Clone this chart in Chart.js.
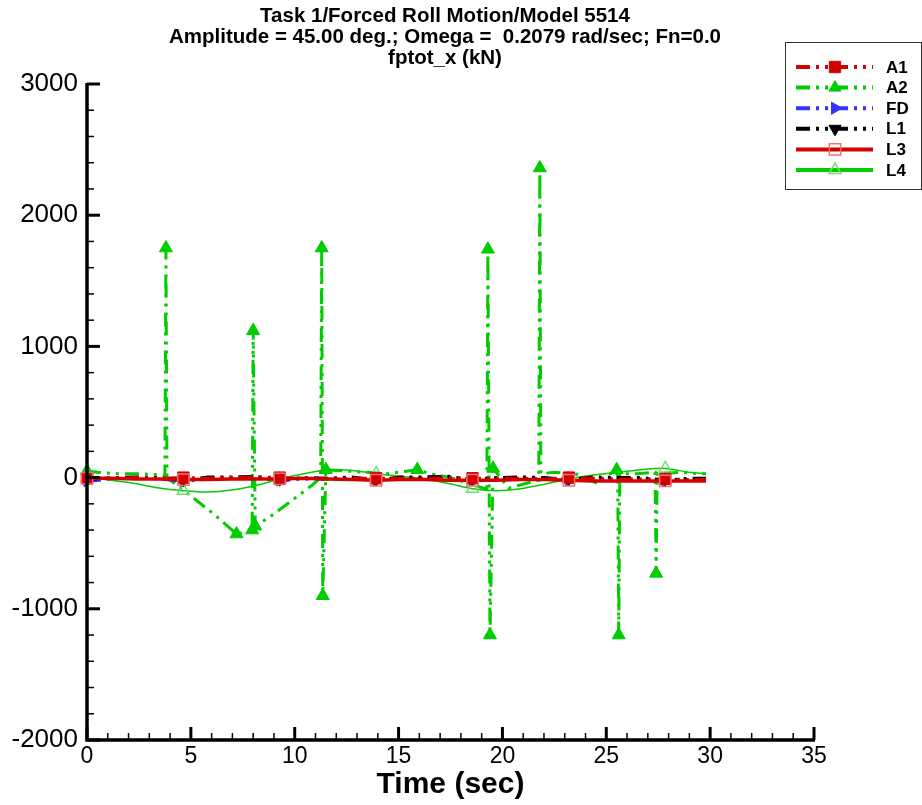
<!DOCTYPE html>
<html>
<head>
<meta charset="utf-8">
<script src="https://cdn.jsdelivr.net/npm/chart.js@4.4.0/dist/chart.umd.min.js"></script>
<style>
  html, body { margin: 0; padding: 0; background: #fff; }
</style>
</head>
<body>
<canvas id="forceChart" width="922" height="805"></canvas>
<script>
// ====== Data ======
const baseTime = [0, 1.16, 2.32, 3.48, 4.64, 5.8, 6.96, 8.12, 9.28, 10.44, 11.6, 12.76, 13.92,
  15.08, 16.24, 17.4, 18.56, 19.72, 20.88, 22.04, 23.2, 24.36, 25.52, 26.68, 27.84, 29.0, 29.8];
const a1Force = [-5, -5, 0, -5, 0, -5, 0, 5, 0, -5, -10, -5, -5, -5, -5, 0, -5, -5, -5, -10, 0, -5, -10, -10, -10, -15, -15];
const fdForce = [-30, -10, -5, -10, -30, -10, -5, 0, -25, -10, -10, -5, -25, -5, -5, 0, -25, -10, -5, -10, -25, -5, -10, -10, -30, -15, -15];
const l1Force = [-15, 0, 5, 0, -25, 5, 5, 10, -20, 0, -5, 5, -20, 5, 5, 10, -15, 0, 5, 0, -15, 5, 0, 0, -20, -5, -5];
const l3Force = [-5, -5, -10, -10, -15, -15, -10, -10, -10, -5, -10, -15, -20, -15, -15, -20, -20, -20, -15, -15, -20, -25, -25, -25, -25, -25, -25];
const l4Force = [0, -20, -45, -80, -100, -110, -95, -60, -10, 30, 60, 55, 30, 10, -10, -45, -85, -100, -85, -50, -10, 20, 40, 60, 70, 40, 30];

const a2Time = [0, 0.5, 1.5, 2.5, 3.5, 3.75, 3.8, 3.85, 5.0, 6.2, 7.2, 7.95, 8.0, 8.1, 8.8, 9.9, 10.9,
  11.25, 11.3, 11.35, 11.5, 12.5, 13.5, 14.5, 15.9, 16.5, 17.5, 18.5, 19.25, 19.3, 19.4, 19.55, 20.3,
  21.0, 21.75, 21.8, 21.85, 22.5, 23.5, 24.5, 25.5, 25.55, 25.6, 25.65, 26.5, 27.35, 27.4, 27.45, 28.5, 29.5, 29.8];
const a2Force = [50, 40, 30, 30, 20, 10, 1750, 0, -140, -290, -430, -400, 1120, -370, -300, -170, -50,
  0, 1750, -900, 60, 50, 40, 30, 60, 30, 0, -50, -90, 1740, -1200, 70, -80,
  -50, -20, 2360, 30, 40, 30, -40, 60, 10, -1200, 30, 30, 40, -730, 30, 40, 30, 30];
const a2MarkTimes = [0, 11.5, 15.9, 19.55, 25.5];

const xTicks = [0, 5, 10, 15, 20, 25, 30, 35];
const yTicks = [-2000, -1000, 0, 1000, 2000, 3000];

const titleLines = [
  "Task 1/Forced Roll Motion/Model 5514",
  "Amplitude = 45.00 deg.; Omega =  0.2079 rad/sec; Fn=0.0",
  "fptot_x (kN)",
];

// ====== Styles ======
const RED = "#d40000";
const GREEN = "#00cc00";
const BLUE = "#3333ff";
const BLACK = "#000000";
const DASH_DOT_DOT = [14, 6, 3, 6, 3, 6];
const FONT = "'Liberation Sans', Arial, sans-serif";

const toPoints = (xs, ys) => xs.map((x, i) => ({ x, y: ys[i] }));
const everyFourth = (r) => (ctx) => (ctx.dataIndex % 4 === 0 ? r : 0);

const makeSeries = (label, xs, ys, opts) => ({
  label,
  data: toPoints(xs, ys),
  borderWidth: 3,
  tension: 0,
  clip: false,
  pointBorderWidth: 1,
  pointHoverRadius: 0,
  ...opts,
});

const datasets = [
  makeSeries("A1", baseTime, a1Force, {
    borderColor: RED, borderDash: DASH_DOT_DOT,
    pointStyle: "rect", pointBackgroundColor: RED, pointBorderColor: RED,
    pointRadius: everyFourth(8), order: 2,
  }),
  makeSeries("A2", a2Time, a2Force, {
    borderColor: GREEN, borderDash: DASH_DOT_DOT,
    pointStyle: "triangle", pointBackgroundColor: GREEN, pointBorderColor: GREEN,
    pointRadius: (ctx) => {
      const v = a2Force[ctx.dataIndex];
      return Math.abs(v) >= 350 || a2MarkTimes.includes(a2Time[ctx.dataIndex]) ? 7.5 : 0;
    },
    order: 6,
  }),
  makeSeries("FD", baseTime, fdForce, {
    borderColor: BLUE, borderDash: DASH_DOT_DOT,
    pointStyle: "triangle", pointRotation: 90, pointBackgroundColor: BLUE, pointBorderColor: BLUE,
    pointRadius: everyFourth(6), order: 4,
  }),
  makeSeries("L1", baseTime, l1Force, {
    borderColor: BLACK, borderDash: DASH_DOT_DOT,
    pointStyle: "triangle", pointRotation: 180, pointBackgroundColor: BLACK, pointBorderColor: BLACK,
    pointRadius: everyFourth(6), order: 3,
  }),
  makeSeries("L3", baseTime, l3Force, {
    borderColor: RED, borderWidth: 3.5,
    pointStyle: "rect", pointBackgroundColor: "rgba(0,0,0,0)", pointBorderColor: "#f07070",
    pointBorderWidth: 1.5, pointRadius: everyFourth(8), order: 1,
  }),
  makeSeries("L4", baseTime, l4Force, {
    borderColor: GREEN, borderWidth: 1.5, tension: 0.3,
    pointStyle: "triangle", pointBackgroundColor: "rgba(0,0,0,0)", pointBorderColor: "#70e070",
    pointBorderWidth: 1.5, pointRadius: everyFourth(7), order: 5,
  }),
];

// ====== Plugins: title, axes with inward ticks, legend ======
const framePlugin = {
  id: "frame",
  afterDraw(chart) {
    const { ctx, chartArea: a, scales } = chart;
    const xs = scales.x, ys = scales.y;
    ctx.save();

    // title
    ctx.fillStyle = BLACK;
    ctx.textAlign = "center";
    ctx.textBaseline = "middle";
    ctx.font = "bold 20.5px " + FONT;
    titleLines.forEach((t, i) => ctx.fillText(t, 445, 16 + i * 21));

    // axis lines
    ctx.strokeStyle = BLACK;
    ctx.lineWidth = 3.5;
    ctx.beginPath();
    ctx.moveTo(a.left, a.top - 1);
    ctx.lineTo(a.left, a.bottom);
    ctx.lineTo(a.right + 1, a.bottom);
    ctx.stroke();

    // inward ticks
    for (let v = -2000; v <= 3000; v += 200) {
      const y = ys.getPixelForValue(v);
      const len = v % 1000 === 0 ? 13 : 7;
      ctx.lineWidth = v % 1000 === 0 ? 3 : 1.5;
      ctx.beginPath();
      ctx.moveTo(a.left, y);
      ctx.lineTo(a.left + len, y);
      ctx.stroke();
    }
    for (let v = 0; v <= 35; v += 1) {
      const x = xs.getPixelForValue(v);
      const len = v % 5 === 0 ? 13 : 7;
      ctx.lineWidth = v % 5 === 0 ? 3 : 1.5;
      ctx.beginPath();
      ctx.moveTo(x, a.bottom);
      ctx.lineTo(x, a.bottom - len);
      ctx.stroke();
    }

    // x axis title
    ctx.font = "bold 30px " + FONT;
    ctx.fillText("Time (sec)", (a.left + a.right) / 2, 785);

    // legend
    const bx = 785, by = 42, bw = 136, bh = 147;
    ctx.lineWidth = 1;
    ctx.strokeStyle = "#333";
    ctx.strokeRect(bx + 0.5, by + 0.5, bw, bh);
    datasets.forEach((ds, i) => {
      const y = 67 + i * 20.6;
      ctx.save();
      ctx.strokeStyle = ds.borderColor;
      ctx.lineWidth = 4;
      ctx.setLineDash(ds.borderDash || []);
      ctx.beginPath();
      ctx.moveTo(796, y);
      ctx.lineTo(873, y);
      ctx.stroke();
      ctx.setLineDash([]);
      ctx.fillStyle = ds.pointBackgroundColor;
      ctx.strokeStyle = ds.pointBorderColor;
      ctx.lineWidth = ds.pointBorderWidth;
      Chart.helpers.drawPoint(ctx, {
        pointStyle: ds.pointStyle,
        rotation: ds.pointRotation || 0,
        radius: ds.pointStyle === "rect" ? 8 : 7,
        borderWidth: ds.pointBorderWidth,
      }, 835, y);
      ctx.restore();
      ctx.fillStyle = BLACK;
      ctx.textAlign = "left";
      ctx.font = "bold 17px " + FONT;
      ctx.fillText(ds.label, 886, y + 1);
    });
    ctx.restore();
  },
};

// ====== Chart Setup ======
const chart = new Chart(document.getElementById("forceChart").getContext("2d"), {
  type: "line",
  data: { datasets },
  options: {
    responsive: false,
    animation: false,
    devicePixelRatio: 1,
    layout: { padding: { top: 84, right: 108, left: 0, bottom: 0 } },
    plugins: { legend: { display: false }, tooltip: { enabled: false }, title: { display: false } },
    scales: {
      x: {
        type: "linear",
        min: 0,
        max: 35,
        grid: { display: false, drawTicks: false },
        border: { display: false },
        afterBuildTicks: (s) => { s.ticks = xTicks.map((value) => ({ value })); },
        afterFit: (s) => { s.height = 65; },
        ticks: {
          color: BLACK,
          padding: 3,
          maxRotation: 0,
          font: { family: FONT, size: 23 },
          callback: (v) => String(v),
        },
      },
      y: {
        type: "linear",
        min: -2000,
        max: 3000,
        grid: { display: false, drawTicks: false },
        border: { display: false },
        afterBuildTicks: (s) => { s.ticks = yTicks.map((value) => ({ value })); },
        afterFit: (s) => { s.width = 87; },
        ticks: {
          color: BLACK,
          padding: 9,
          font: { family: FONT, size: 26 },
          callback: (v) => String(v),
        },
      },
    },
  },
  plugins: [framePlugin],
});
</script>
</body>
</html>
